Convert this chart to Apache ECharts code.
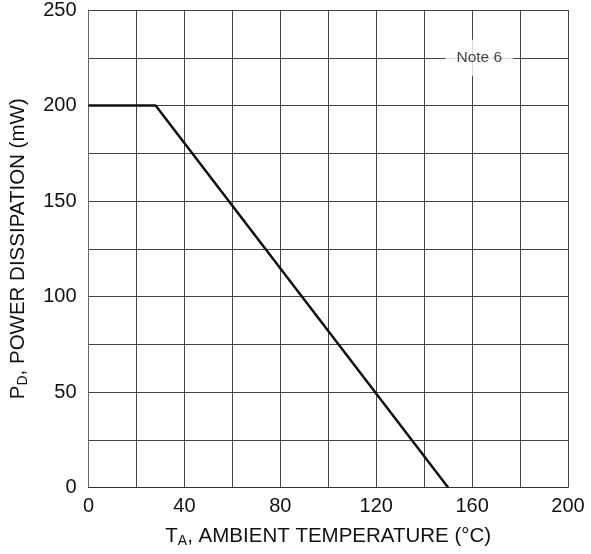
<!DOCTYPE html>
<html>
<head>
<meta charset="utf-8">
<script src="https://cdn.jsdelivr.net/npm/echarts@6/dist/echarts.min.js"></script>
<style>html,body{margin:0;padding:0;background:#fff;}#c{width:591px;height:554px;}</style>
</head>
<body>
<div id="c"></div>
<script>
var temperature = [0, 28, 150];
var power = [200, 200, 0];
var xTickLabels = [0, 40, 80, 120, 160, 200];
var yTickLabels = [0, 50, 100, 150, 200, 250];
var noteText = 'Note 6';
var notePos = [163, 225];

var chart = echarts.init(document.getElementById('c'));
var lineData = temperature.map(function (t, i) { return [t, power[i]]; });
var font = 'Liberation Sans, Arial, sans-serif';
chart.setOption({
  animation: false,
  grid: { left: 88, right: 23, top: 9.5, bottom: 66.5, containLabel: false },
  xAxis: {
    type: 'value', min: 0, max: 200, interval: 20,
    axisLine: { show: true, lineStyle: { color: '#333', width: 1 } },
    axisTick: { show: false },
    splitLine: { show: true, lineStyle: { color: '#444', width: 1 } },
    axisLabel: {
      color: '#111', fontSize: 20, fontFamily: font, margin: 9,
      formatter: function (v) { return xTickLabels.indexOf(v) >= 0 ? String(v) : ''; }
    },
    name: 'T{sub|A}, AMBIENT TEMPERATURE (°C)',
    nameLocation: 'middle', nameGap: 37,
    nameTextStyle: {
      color: '#111', fontSize: 20.5, fontFamily: font,
      rich: { sub: { fontSize: 14, fontFamily: font, color: '#111', verticalAlign: 'bottom', padding: [10, 0, 0, 0] } }
    }
  },
  yAxis: {
    type: 'value', min: 0, max: 250, interval: 25,
    axisLine: { show: true, lineStyle: { color: '#666', width: 1 } },
    axisTick: { show: false },
    splitLine: { show: true, lineStyle: { color: '#444', width: 1 } },
    axisLabel: {
      color: '#111', fontSize: 20, fontFamily: font, margin: 12,
      formatter: function (v) { return yTickLabels.indexOf(v) >= 0 ? String(v) : ''; }
    },
    name: 'P{sub|D}, POWER DISSIPATION (mW)',
    nameLocation: 'middle', nameGap: 58,
    nameTextStyle: {
      color: '#111', fontSize: 20.5, fontFamily: font,
      rich: { sub: { fontSize: 14, fontFamily: font, color: '#111', verticalAlign: 'bottom', padding: [10, 0, 0, 0] } }
    }
  },
  series: [
    {
      type: 'line', data: lineData, symbol: 'none',
      lineStyle: { color: '#111', width: 2.5 }
    },
    {
      type: 'scatter', data: [notePos], symbolSize: 0,
      label: {
        show: true, position: 'inside', formatter: noteText,
        color: '#111', fontSize: 15.5, fontFamily: font,
        backgroundColor: '#fff', padding: [10, 11, 10, 11]
      },
      z: 5
    }
  ]
});
</script>
</body>
</html>
